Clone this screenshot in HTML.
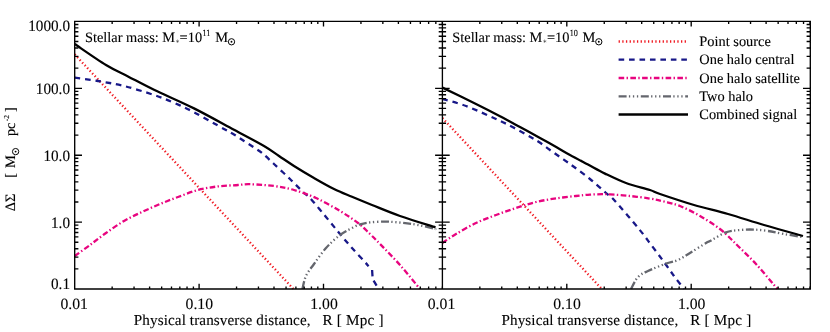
<!DOCTYPE html>
<html><head><meta charset="utf-8"><title>chart</title>
<style>html,body{margin:0;padding:0;background:#fff;}svg{display:block;}text{font-family:"Liberation Serif",serif;fill:#000;text-rendering:geometricPrecision;stroke:#000;stroke-width:0.12px;}</style>
</head><body>
<svg width="830" height="332" viewBox="0 0 830 332">
<rect x="0" y="0" width="830" height="332" fill="#fff"/>
<g opacity="0.999">
<defs><clipPath id="cl"><rect x="74.70" y="21.40" width="367.70" height="268.20"/></clipPath>
<clipPath id="cr"><rect x="442.40" y="21.40" width="367.90" height="268.20"/></clipPath></defs>
<path d="M74.70,54.40 L293.44,289.00" fill="none" stroke="#f01a22" stroke-width="2.30" stroke-dasharray="1.3 2.37" clip-path="url(#cl)"/>
<path d="M74.70,77.70 C78.58,78.25 89.78,79.62 98.00,81.00 C106.22,82.38 114.67,83.67 124.00,86.00 C133.33,88.33 145.67,92.20 154.00,95.00 C162.33,97.80 167.33,99.93 174.00,102.80 C180.67,105.67 185.67,107.83 194.00,112.20 C202.33,116.57 217.33,125.28 224.00,129.00 C230.67,132.72 230.67,132.50 234.00,134.50 C237.33,136.50 240.67,138.83 244.00,141.00 C247.33,143.17 251.00,145.50 254.00,147.50 C257.00,149.50 258.67,150.25 262.00,153.00 C265.33,155.75 269.33,159.67 274.00,164.00 C278.67,168.33 285.00,174.17 290.00,179.00 C295.00,183.83 300.67,189.83 304.00,193.00 C307.33,196.17 306.33,194.00 310.00,198.00 C313.67,202.00 321.00,211.00 326.00,217.00 C331.00,223.00 335.67,228.83 340.00,234.00 C344.33,239.17 348.00,243.50 352.00,248.00 C356.00,252.50 361.23,257.97 364.00,261.00 C366.77,264.03 367.83,265.33 368.60,266.20" fill="none" stroke="#181888" stroke-width="2.30" stroke-dasharray="5.6 4.85" clip-path="url(#cl)"/>
<path d="M372.10,270.00 L372.50,276.40M373.60,280.60 L376.60,285.60" fill="none" stroke="#181888" stroke-width="2.30" clip-path="url(#cl)"/>
<path d="M74.70,256.00 C77.25,254.17 84.78,248.83 90.00,245.00 C95.22,241.17 100.33,237.00 106.00,233.00 C111.67,229.00 118.00,224.50 124.00,221.00 C130.00,217.50 136.00,214.83 142.00,212.00 C148.00,209.17 154.00,206.50 160.00,204.00 C166.00,201.50 171.67,199.33 178.00,197.00 C184.33,194.67 191.33,191.77 198.00,190.00 C204.67,188.23 211.33,187.23 218.00,186.40 C224.67,185.57 232.67,185.37 238.00,185.00 C243.33,184.63 244.00,184.03 250.00,184.20 C256.00,184.37 266.67,185.03 274.00,186.00 C281.33,186.97 287.00,188.00 294.00,190.00 C301.00,192.00 308.33,194.50 316.00,198.00 C323.67,201.50 333.00,206.83 340.00,211.00 C347.00,215.17 353.00,219.17 358.00,223.00 C363.00,226.83 366.33,230.50 370.00,234.00 C373.67,237.50 375.00,238.83 380.00,244.00 C385.00,249.17 393.33,257.50 400.00,265.00 C406.67,272.50 416.67,285.00 420.00,289.00" fill="none" stroke="#e8047f" stroke-width="2.30" stroke-dasharray="5.6 2.35 1.4 2.4" clip-path="url(#cl)"/>
<path d="M302.40,289.00 C303.00,286.83 304.07,280.17 306.00,276.00 C307.93,271.83 310.67,268.67 314.00,264.00 C317.33,259.33 321.67,252.83 326.00,248.00 C330.33,243.17 335.33,238.50 340.00,235.00 C344.67,231.50 350.67,228.77 354.00,227.00 C357.33,225.23 357.33,225.17 360.00,224.40 C362.67,223.63 365.67,222.87 370.00,222.40 C374.33,221.93 380.67,221.53 386.00,221.60 C391.33,221.67 396.67,222.23 402.00,222.80 C407.33,223.37 412.67,224.03 418.00,225.00 C423.33,225.97 431.08,227.93 434.00,228.60 C436.92,229.27 435.25,228.93 435.50,229.00" fill="none" stroke="#64666d" stroke-width="2.30" stroke-dasharray="8.0 2.3 1.3 2.7 1.3 2.7 1.3 2.6" clip-path="url(#cl)"/>
<path d="M74.70,44.00 C79.92,47.50 97.12,59.60 106.00,65.00 C114.88,70.40 120.00,72.27 128.00,76.40 C136.00,80.53 143.00,84.47 154.00,89.80 C165.00,95.13 180.67,101.73 194.00,108.40 C207.33,115.07 222.33,123.53 234.00,129.80 C245.67,136.07 256.50,141.63 264.00,146.00 C271.50,150.37 274.00,152.67 279.00,156.00 C284.00,159.33 288.17,162.33 294.00,166.00 C299.83,169.67 307.33,174.17 314.00,178.00 C320.67,181.83 327.67,185.87 334.00,189.00 C340.33,192.13 345.67,194.13 352.00,196.80 C358.33,199.47 364.00,201.80 372.00,205.00 C380.00,208.20 389.42,212.27 400.00,216.00 C410.58,219.73 429.58,225.50 435.50,227.40" fill="none" stroke="#000" stroke-width="2.30" clip-path="url(#cl)"/>
<path d="M442.40,118.00 L601.84,289.00" fill="none" stroke="#f01a22" stroke-width="2.30" stroke-dasharray="1.3 2.37" clip-path="url(#cr)"/>
<path d="M442.40,99.00 C446.33,100.17 457.07,102.67 466.00,106.00 C474.93,109.33 488.25,115.50 496.00,119.00 C503.75,122.50 506.75,124.00 512.50,127.00 C518.25,130.00 526.08,134.50 530.50,137.00 C534.92,139.50 535.75,139.83 539.00,142.00 C542.25,144.17 544.83,146.33 550.00,150.00 C555.17,153.67 563.33,159.17 570.00,164.00 C576.67,168.83 584.00,174.17 590.00,179.00 C596.00,183.83 601.83,189.33 606.00,193.00 C610.17,196.67 609.50,195.00 615.00,201.00 C620.50,207.00 632.83,221.50 639.00,229.00 C645.17,236.50 647.83,240.50 652.00,246.00 C656.17,251.50 660.33,257.00 664.00,262.00 C667.67,267.00 670.67,271.50 674.00,276.00 C677.33,280.50 682.33,286.83 684.00,289.00" fill="none" stroke="#181888" stroke-width="2.30" stroke-dasharray="5.6 4.85" clip-path="url(#cr)"/>
<path d="M442.40,243.00 C444.67,241.50 450.40,237.33 456.00,234.00 C461.60,230.67 469.33,226.17 476.00,223.00 C482.67,219.83 489.33,217.50 496.00,215.00 C502.67,212.50 509.33,210.17 516.00,208.00 C522.67,205.83 529.33,203.60 536.00,202.00 C542.67,200.40 549.33,199.40 556.00,198.40 C562.67,197.40 570.33,196.63 576.00,196.00 C581.67,195.37 585.67,194.90 590.00,194.60 C594.33,194.30 598.67,194.23 602.00,194.20 C605.33,194.17 605.33,194.10 610.00,194.40 C614.67,194.70 623.33,195.30 630.00,196.00 C636.67,196.70 644.33,197.68 650.00,198.60 C655.67,199.52 659.00,200.27 664.00,201.50 C669.00,202.73 674.00,203.58 680.00,206.00 C686.00,208.42 693.33,212.17 700.00,216.00 C706.67,219.83 714.67,225.00 720.00,229.00 C725.33,233.00 729.00,237.17 732.00,240.00 C735.00,242.83 734.00,242.00 738.00,246.00 C742.00,250.00 749.42,256.83 756.00,264.00 C762.58,271.17 773.92,284.83 777.50,289.00" fill="none" stroke="#e8047f" stroke-width="2.30" stroke-dasharray="5.6 2.35 1.4 2.4" clip-path="url(#cr)"/>
<path d="M631.00,289.00 C632.17,287.00 635.17,280.00 638.00,277.00 C640.83,274.00 643.33,273.23 648.00,271.00 C652.67,268.77 661.00,265.43 666.00,263.60 C671.00,261.77 674.00,261.77 678.00,260.00 C682.00,258.23 685.33,255.83 690.00,253.00 C694.67,250.17 702.67,245.00 706.00,243.00 C709.33,241.00 706.67,242.77 710.00,241.00 C713.33,239.23 721.00,234.23 726.00,232.40 C731.00,230.57 735.33,230.47 740.00,230.00 C744.67,229.53 749.33,229.43 754.00,229.60 C758.67,229.77 763.00,230.27 768.00,231.00 C773.00,231.73 778.33,233.00 784.00,234.00 C789.67,235.00 799.00,236.50 802.00,237.00" fill="none" stroke="#64666d" stroke-width="2.30" stroke-dasharray="8.0 2.3 1.3 2.7 1.3 2.7 1.3 2.6" clip-path="url(#cr)"/>
<path d="M442.40,87.60 C448.00,90.33 466.40,99.23 476.00,104.00 C485.60,108.77 492.67,112.37 500.00,116.20 C507.33,120.03 513.33,123.37 520.00,127.00 C526.67,130.63 534.33,134.87 540.00,138.00 C545.67,141.13 549.00,142.97 554.00,145.80 C559.00,148.63 564.33,151.87 570.00,155.00 C575.67,158.13 582.17,161.50 588.00,164.60 C593.83,167.70 598.67,170.53 605.00,173.60 C611.33,176.67 618.50,180.27 626.00,183.00 C633.50,185.73 644.33,188.17 650.00,190.00 C655.67,191.83 652.67,191.50 660.00,194.00 C667.33,196.50 682.67,201.67 694.00,205.00 C705.33,208.33 716.33,210.67 728.00,214.00 C739.67,217.33 751.50,221.33 764.00,225.00 C776.50,228.67 796.50,234.17 803.00,236.00" fill="none" stroke="#000" stroke-width="2.30" clip-path="url(#cr)"/>
<path d="M74.70,21.40L810.30,21.40M74.70,289.00L810.30,289.00M74.70,20.72L74.70,289.68M810.30,20.72L810.30,289.68M442.40,21.40L442.40,289.00M74.70,289.00L82.00,289.00M435.10,289.00L449.70,289.00M803.00,289.00L810.30,289.00M74.70,268.86L78.40,268.86M438.70,268.86L446.10,268.86M806.60,268.86L810.30,268.86M74.70,257.08L78.40,257.08M438.70,257.08L446.10,257.08M806.60,257.08L810.30,257.08M74.70,248.72L78.40,248.72M438.70,248.72L446.10,248.72M806.60,248.72L810.30,248.72M74.70,242.24L78.40,242.24M438.70,242.24L446.10,242.24M806.60,242.24L810.30,242.24M74.70,236.94L78.40,236.94M438.70,236.94L446.10,236.94M806.60,236.94L810.30,236.94M74.70,232.46L78.40,232.46M438.70,232.46L446.10,232.46M806.60,232.46L810.30,232.46M74.70,228.58L78.40,228.58M438.70,228.58L446.10,228.58M806.60,228.58L810.30,228.58M74.70,225.16L78.40,225.16M438.70,225.16L446.10,225.16M806.60,225.16L810.30,225.16M74.70,222.10L82.00,222.10M435.10,222.10L449.70,222.10M803.00,222.10L810.30,222.10M74.70,201.96L78.40,201.96M438.70,201.96L446.10,201.96M806.60,201.96L810.30,201.96M74.70,190.18L78.40,190.18M438.70,190.18L446.10,190.18M806.60,190.18L810.30,190.18M74.70,181.82L78.40,181.82M438.70,181.82L446.10,181.82M806.60,181.82L810.30,181.82M74.70,175.34L78.40,175.34M438.70,175.34L446.10,175.34M806.60,175.34L810.30,175.34M74.70,170.04L78.40,170.04M438.70,170.04L446.10,170.04M806.60,170.04L810.30,170.04M74.70,165.56L78.40,165.56M438.70,165.56L446.10,165.56M806.60,165.56L810.30,165.56M74.70,161.68L78.40,161.68M438.70,161.68L446.10,161.68M806.60,161.68L810.30,161.68M74.70,158.26L78.40,158.26M438.70,158.26L446.10,158.26M806.60,158.26L810.30,158.26M74.70,155.20L82.00,155.20M435.10,155.20L449.70,155.20M803.00,155.20L810.30,155.20M74.70,135.06L78.40,135.06M438.70,135.06L446.10,135.06M806.60,135.06L810.30,135.06M74.70,123.28L78.40,123.28M438.70,123.28L446.10,123.28M806.60,123.28L810.30,123.28M74.70,114.92L78.40,114.92M438.70,114.92L446.10,114.92M806.60,114.92L810.30,114.92M74.70,108.44L78.40,108.44M438.70,108.44L446.10,108.44M806.60,108.44L810.30,108.44M74.70,103.14L78.40,103.14M438.70,103.14L446.10,103.14M806.60,103.14L810.30,103.14M74.70,98.66L78.40,98.66M438.70,98.66L446.10,98.66M806.60,98.66L810.30,98.66M74.70,94.78L78.40,94.78M438.70,94.78L446.10,94.78M806.60,94.78L810.30,94.78M74.70,91.36L78.40,91.36M438.70,91.36L446.10,91.36M806.60,91.36L810.30,91.36M74.70,88.30L82.00,88.30M435.10,88.30L449.70,88.30M803.00,88.30L810.30,88.30M74.70,68.16L78.40,68.16M438.70,68.16L446.10,68.16M806.60,68.16L810.30,68.16M74.70,56.38L78.40,56.38M438.70,56.38L446.10,56.38M806.60,56.38L810.30,56.38M74.70,48.02L78.40,48.02M438.70,48.02L446.10,48.02M806.60,48.02L810.30,48.02M74.70,41.54L78.40,41.54M438.70,41.54L446.10,41.54M806.60,41.54L810.30,41.54M74.70,36.24L78.40,36.24M438.70,36.24L446.10,36.24M806.60,36.24L810.30,36.24M74.70,31.76L78.40,31.76M438.70,31.76L446.10,31.76M806.60,31.76L810.30,31.76M74.70,27.88L78.40,27.88M438.70,27.88L446.10,27.88M806.60,27.88L810.30,27.88M74.70,24.46L78.40,24.46M438.70,24.46L446.10,24.46M806.60,24.46L810.30,24.46M74.70,21.40L82.00,21.40M435.10,21.40L449.70,21.40M803.00,21.40L810.30,21.40M112.15,289.00L112.15,286.50M112.15,21.40L112.15,23.90M134.05,289.00L134.05,286.50M134.05,21.40L134.05,23.90M149.60,289.00L149.60,286.50M149.60,21.40L149.60,23.90M161.65,289.00L161.65,286.50M161.65,21.40L161.65,23.90M171.50,289.00L171.50,286.50M171.50,21.40L171.50,23.90M179.83,289.00L179.83,286.50M179.83,21.40L179.83,23.90M187.04,289.00L187.04,286.50M187.04,21.40L187.04,23.90M193.41,289.00L193.41,286.50M193.41,21.40L193.41,23.90M199.10,289.00L199.10,283.80M199.10,21.40L199.10,26.60M236.55,289.00L236.55,286.50M236.55,21.40L236.55,23.90M258.45,289.00L258.45,286.50M258.45,21.40L258.45,23.90M274.00,289.00L274.00,286.50M274.00,21.40L274.00,23.90M286.05,289.00L286.05,286.50M286.05,21.40L286.05,23.90M295.90,289.00L295.90,286.50M295.90,21.40L295.90,23.90M304.23,289.00L304.23,286.50M304.23,21.40L304.23,23.90M311.44,289.00L311.44,286.50M311.44,21.40L311.44,23.90M317.81,289.00L317.81,286.50M317.81,21.40L317.81,23.90M323.50,289.00L323.50,283.80M323.50,21.40L323.50,26.60M360.95,289.00L360.95,286.50M360.95,21.40L360.95,23.90M382.85,289.00L382.85,286.50M382.85,21.40L382.85,23.90M398.40,289.00L398.40,286.50M398.40,21.40L398.40,23.90M410.45,289.00L410.45,286.50M410.45,21.40L410.45,23.90M420.30,289.00L420.30,286.50M420.30,21.40L420.30,23.90M428.63,289.00L428.63,286.50M428.63,21.40L428.63,23.90M435.84,289.00L435.84,286.50M435.84,21.40L435.84,23.90M442.21,289.00L442.21,286.50M442.21,21.40L442.21,23.90M479.85,289.00L479.85,286.50M479.85,21.40L479.85,23.90M501.75,289.00L501.75,286.50M501.75,21.40L501.75,23.90M517.30,289.00L517.30,286.50M517.30,21.40L517.30,23.90M529.35,289.00L529.35,286.50M529.35,21.40L529.35,23.90M539.20,289.00L539.20,286.50M539.20,21.40L539.20,23.90M547.53,289.00L547.53,286.50M547.53,21.40L547.53,23.90M554.74,289.00L554.74,286.50M554.74,21.40L554.74,23.90M561.11,289.00L561.11,286.50M561.11,21.40L561.11,23.90M566.80,289.00L566.80,283.80M566.80,21.40L566.80,26.60M604.25,289.00L604.25,286.50M604.25,21.40L604.25,23.90M626.15,289.00L626.15,286.50M626.15,21.40L626.15,23.90M641.70,289.00L641.70,286.50M641.70,21.40L641.70,23.90M653.75,289.00L653.75,286.50M653.75,21.40L653.75,23.90M663.60,289.00L663.60,286.50M663.60,21.40L663.60,23.90M671.93,289.00L671.93,286.50M671.93,21.40L671.93,23.90M679.14,289.00L679.14,286.50M679.14,21.40L679.14,23.90M685.51,289.00L685.51,286.50M685.51,21.40L685.51,23.90M691.20,289.00L691.20,283.80M691.20,21.40L691.20,26.60M728.65,289.00L728.65,286.50M728.65,21.40L728.65,23.90M750.55,289.00L750.55,286.50M750.55,21.40L750.55,23.90M766.10,289.00L766.10,286.50M766.10,21.40L766.10,23.90M778.15,289.00L778.15,286.50M778.15,21.40L778.15,23.90M788.00,289.00L788.00,286.50M788.00,21.40L788.00,23.90M796.33,289.00L796.33,286.50M796.33,21.40L796.33,23.90M803.54,289.00L803.54,286.50M803.54,21.40L803.54,23.90M809.91,289.00L809.91,286.50M809.91,21.40L809.91,23.90" fill="none" stroke="#000" stroke-width="1.35" stroke-linecap="butt"/>
<text transform="translate(70.0,30.80) scale(1,1.04)" x="0" y="0" font-size="15.2" text-anchor="end">1000.0</text>
<text transform="translate(70.0,93.80) scale(1,1.04)" x="0" y="0" font-size="15.2" text-anchor="end">100.0</text>
<text transform="translate(70.0,160.80) scale(1,1.04)" x="0" y="0" font-size="15.2" text-anchor="end">10.0</text>
<text transform="translate(70.0,227.70) scale(1,1.04)" x="0" y="0" font-size="15.2" text-anchor="end">1.0</text>
<text transform="translate(70.0,288.90) scale(1,1.04)" x="0" y="0" font-size="15.2" text-anchor="end">0.1</text>
<text x="74.20" y="308.80" font-size="15.70" text-anchor="middle" >0.01</text>
<text x="199.30" y="308.80" font-size="15.70" text-anchor="middle" >0.10</text>
<text x="324.00" y="308.80" font-size="15.70" text-anchor="middle" >1.00</text>
<text x="441.50" y="308.80" font-size="15.70" text-anchor="middle" >0.01</text>
<text x="567.00" y="308.80" font-size="15.70" text-anchor="middle" >0.10</text>
<text x="691.70" y="308.80" font-size="15.70" text-anchor="middle" >1.00</text>
<text x="133.75" y="324.70" font-size="15.15" text-anchor="start" textLength="176.8" lengthAdjust="spacing">Physical transverse distance,</text>
<text x="322.55" y="324.70" font-size="15.15" text-anchor="start" textLength="60.95" lengthAdjust="spacing">R [ Mpc ]</text>
<text x="501.45" y="324.70" font-size="15.15" text-anchor="start" textLength="176.8" lengthAdjust="spacing">Physical transverse distance,</text>
<text x="690.25" y="324.70" font-size="15.15" text-anchor="start" textLength="60.95" lengthAdjust="spacing">R [ Mpc ]</text>
<text x="85.00" y="41.60" font-size="14.35" text-anchor="start" >Stellar mass: M</text>
<text x="175.30" y="43.10" font-size="5.50" text-anchor="start" style="stroke-width:0;fill:#444">&#8727;</text>
<text x="179.60" y="41.60" font-size="14.40" text-anchor="start" >=10</text>
<text transform="translate(202.50,35.60) scale(1,1.15)" x="0" y="0" font-size="8.1" style="stroke-width:0.1px">11</text>
<text x="215.20" y="41.60" font-size="14.40" text-anchor="start" >M</text>
<circle cx="231.50" cy="41.80" r="3.15" fill="none" stroke="#000" stroke-width="1.00"/>
<circle cx="231.50" cy="41.80" r="0.95" fill="#000"/>
<text x="452.30" y="41.60" font-size="14.35" text-anchor="start" >Stellar mass: M</text>
<text x="542.60" y="43.10" font-size="5.50" text-anchor="start" style="stroke-width:0;fill:#444">&#8727;</text>
<text x="546.90" y="41.60" font-size="14.40" text-anchor="start" >=10</text>
<text transform="translate(569.80,35.60) scale(1,1.15)" x="0" y="0" font-size="8.1" style="stroke-width:0.1px">10</text>
<text x="582.50" y="41.60" font-size="14.40" text-anchor="start" >M</text>
<circle cx="598.80" cy="41.80" r="3.15" fill="none" stroke="#000" stroke-width="1.00"/>
<circle cx="598.80" cy="41.80" r="0.95" fill="#000"/>
<g transform="translate(14.8,211.3) rotate(-90)">
<text x="0.00" y="0.00" font-size="14.40" text-anchor="start" >&#916;&#931;</text>
<text x="33.60" y="0.00" font-size="14.40" text-anchor="start" >[</text>
<text x="43.20" y="0.00" font-size="14.40" text-anchor="start" >M</text>
<circle cx="59.70" cy="0.80" r="3.15" fill="none" stroke="#000" stroke-width="1.00"/>
<circle cx="59.70" cy="0.80" r="0.95" fill="#000"/>
<text x="75.20" y="0.00" font-size="14.40" text-anchor="start" >pc</text>
<text x="90.00" y="-5.40" font-size="7.60" text-anchor="start" style="stroke-width:0.1px">-2</text>
<text x="99.20" y="0.00" font-size="14.40" text-anchor="start" >]</text>
</g>
<path d="M618.60,41.50L688.00,41.50" fill="none" stroke="#f01a22" stroke-width="2.30" stroke-dasharray="1.3 2.37"/>
<text x="699.30" y="46.10" font-size="14.40" text-anchor="start" >Point source</text>
<path d="M618.60,59.70L688.00,59.70" fill="none" stroke="#181888" stroke-width="2.30" stroke-dasharray="5.6 4.85"/>
<text x="699.30" y="64.30" font-size="14.40" text-anchor="start" >One halo central</text>
<path d="M618.60,78.00L688.00,78.00" fill="none" stroke="#e8047f" stroke-width="2.30" stroke-dasharray="5.6 2.35 1.4 2.4"/>
<text x="699.30" y="82.60" font-size="14.40" text-anchor="start" >One halo satellite</text>
<path d="M618.60,96.30L688.00,96.30" fill="none" stroke="#64666d" stroke-width="2.30" stroke-dasharray="8.0 2.3 1.3 2.7 1.3 2.7 1.3 2.6"/>
<text x="699.30" y="100.90" font-size="14.40" text-anchor="start" >Two halo</text>
<path d="M618.60,114.50L688.00,114.50" fill="none" stroke="#000" stroke-width="2.30"/>
<text x="699.30" y="119.10" font-size="14.40" text-anchor="start" >Combined signal</text>
</g>
</svg></body></html>
